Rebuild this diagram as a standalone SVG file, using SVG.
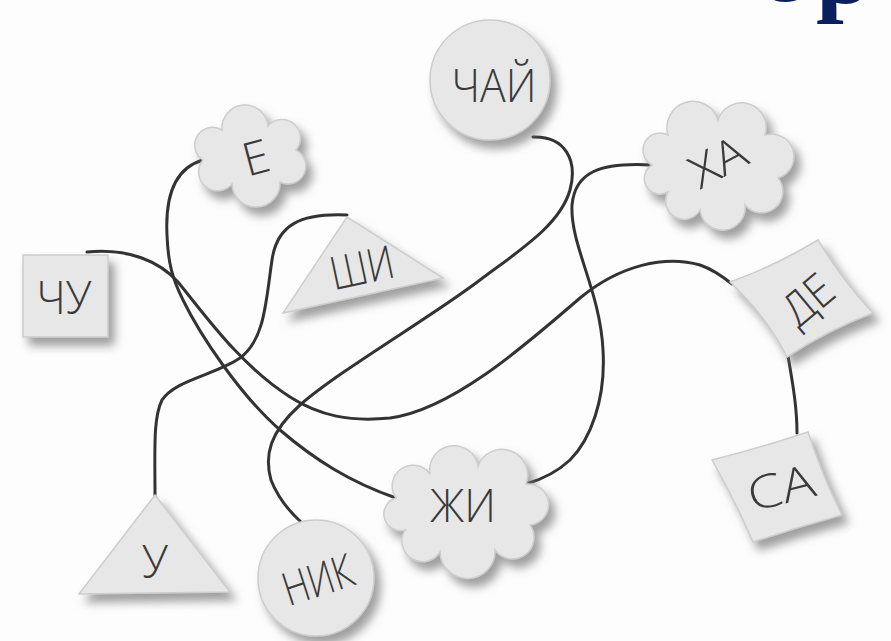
<svg xmlns="http://www.w3.org/2000/svg" width="891" height="641" viewBox="0 0 891 641">
  <defs>
    <filter id="sh" x="-30%" y="-30%" width="170%" height="170%">
      <feDropShadow dx="6" dy="8" stdDeviation="5" flood-color="#777" flood-opacity="0.7"/>
    </filter>
  </defs>
  <style>
    .n { fill: #e7e7e7; stroke: #cdcdcd; stroke-width: 1.5; filter: url(#sh); }
    .t { font-family: "Open Sans", "Liberation Sans", Arial, sans-serif; font-weight: 300; font-size: 46px; fill: #3a3a3a; text-anchor: middle; }
    .c { fill: none; stroke: #333; stroke-width: 3; stroke-linecap: round; }
    .hd { font-family: "Liberation Serif", "Times New Roman", serif; font-weight: bold; font-size: 100px; fill: #0b1f5e; }
  </style>
  <rect width="891" height="641" fill="#fdfdfd"/>
  <text class="hd" x="760" y="1">е</text>
  <text class="hd" x="816" y="3">р</text>

  <g id="connectors">
    <path id="c-chai-nik" class="c" d="M533,137 C565,136 578,160 570,190 C560,225 520,250 480,280 C430,318 340,370 300,405 C270,432 264,455 271,480 C278,498 290,512 301,522"/>
    <path id="c-ha-zhi" class="c" d="M652,165 C600,162 575,172 572,205 C570,245 600,290 603,350 C606,400 590,440 570,460 C557,472 540,480 526,484"/>
    <path id="c-shi-u" class="c" d="M347,215 C300,213 277,225 272,260 C266,300 265,340 240,358 C215,375 175,380 162,400 C153,418 155,450 155,495"/>
    <path id="c-chu-de" class="c" d="M87,252 C130,248 160,262 178,282 C205,315 240,365 290,397 C320,416 350,422 390,418 C450,410 520,350 580,298 C620,265 665,255 700,265 C712,269 722,276 732,284"/>
    <path id="c-e-zhi" class="c" d="M203,160 C175,168 165,195 167,235 C168,262 172,278 183,300 C200,335 240,395 280,430 C315,460 350,482 396,498"/>
    <path id="c-de-sa" class="c" d="M787,350 C792,380 797,405 797,433"/>
  </g>

  <g id="n-chai">
    <circle class="n" cx="490" cy="80" r="60"/>
    <text class="t" x="494" y="102" textLength="85" lengthAdjust="spacingAndGlyphs">ЧАЙ</text>
  </g>
  <g id="n-e">
    <path class="n" d="M203,160 A1,1 0 0 1 222,130 A1,1 0 0 1 268,126 A1,1 0 0 1 296,150 A1,1 0 0 1 280,182 A1,1 0 0 1 232,184 A1,1 0 0 1 203,160 Z"/>
    <text class="t" transform="translate(256,158) rotate(-15)" x="0" y="16" textLength="26" lengthAdjust="spacingAndGlyphs">Е</text>
  </g>
  <g id="n-ha">
    <path class="n" d="M652,165 A1,1 0 0 1 668,135 A1,1 0 0 1 718,120 A1,1 0 0 1 765,135 A1,1 0 0 1 778,178 A1,1 0 0 1 745,205 A1,1 0 0 1 700,210 A1,1 0 0 1 668,192 A1,1 0 0 1 652,165 Z"/>
    <text class="t" transform="translate(718,162) rotate(-28)" x="0" y="16" textLength="58" lengthAdjust="spacingAndGlyphs">ХА</text>
  </g>
  <g id="n-chu">
    <rect class="n" x="23" y="255" width="85" height="82"/>
    <text class="t" x="64" y="314" textLength="55" lengthAdjust="spacingAndGlyphs">ЧУ</text>
  </g>
  <g id="n-shi">
    <polygon class="n" points="347,217 443,278 283,313"/>
    <text class="t" transform="translate(362,268) rotate(-12)" x="0" y="16" textLength="64" lengthAdjust="spacingAndGlyphs">ШИ</text>
  </g>
  <g id="n-de">
    <path class="n" d="M730,282 Q775,266 818,240 Q842,280 873,313 Q828,330 787,357 Q768,318 730,282 Z"/>
    <text class="t" transform="translate(808,300) rotate(-40)" x="0" y="16" textLength="52" lengthAdjust="spacingAndGlyphs">ДЕ</text>
  </g>
  <g id="n-sa">
    <path class="n" d="M712,460 Q760,448 808,432 Q822,475 842,515 Q798,527 753,542 Q735,500 712,460 Z"/>
    <text class="t" transform="translate(781,488) rotate(-14)" x="0" y="16" textLength="68" lengthAdjust="spacingAndGlyphs">СА</text>
  </g>
  <g id="n-u">
    <polygon class="n" points="155,495 230,592 79,594"/>
    <text class="t" x="155" y="578" textLength="26" lengthAdjust="spacingAndGlyphs">У</text>
  </g>
  <g id="n-nik">
    <circle class="n" cx="316" cy="578" r="58"/>
    <text class="t" transform="translate(318,580) rotate(-18)" x="0" y="16" textLength="72" lengthAdjust="spacingAndGlyphs">НИК</text>
  </g>
  <g id="n-zhi">
    <path class="n" d="M396,498 A1,1 0 0 1 430,474 A1,1 0 0 1 478,466 A1,1 0 0 1 526,484 A1,1 0 0 1 530,525 A1,1 0 0 1 495,550 A1,1 0 0 1 440,552 A1,1 0 0 1 405,530 A1,1 0 0 1 396,498 Z"/>
    <text class="t" x="463" y="522" textLength="66" lengthAdjust="spacingAndGlyphs">ЖИ</text>
  </g>
</svg>
